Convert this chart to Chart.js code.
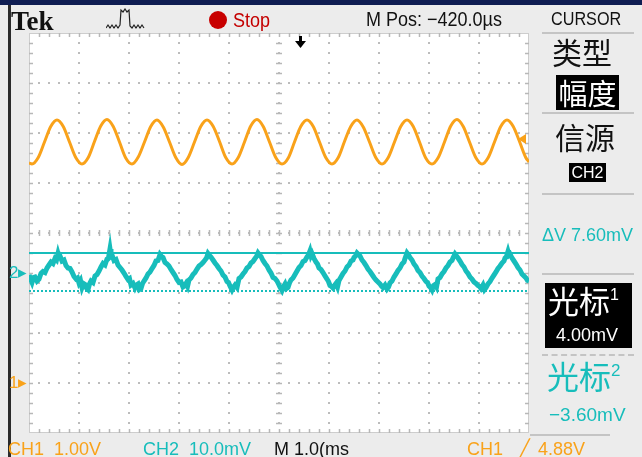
<!DOCTYPE html>
<html>
<head>
<meta charset="utf-8">
<script src="https://cdn.jsdelivr.net/npm/chart.js@4.4.1/dist/chart.umd.min.js"></script>
<style>
  html, body { margin: 0; padding: 0; }
  body { width: 642px; height: 457px; overflow: hidden; background: #ececec; position: relative;
         font-family: "Liberation Sans", Arial, sans-serif; }
  #scope { position: absolute; left: 0; top: 0; }
  .t { position: absolute; white-space: nowrap; line-height: 1; }
  .narrow { transform: scaleX(0.9); transform-origin: left top; }
  .cjk { font-family: "Noto Sans CJK SC", sans-serif; font-weight: 400; }
  .sep { position: absolute; height: 2px; background: #c4c4c4; }
  .box { position: absolute; background: #000; color: #fff; text-align: center; }
  .orange { color: #f9a21a; }
  .teal { color: #17bdbb; }
</style>
</head>
<body>
<canvas id="scope" width="642" height="457"></canvas>

<!-- frame -->
<div style="position:absolute;left:0;top:0;width:642px;height:5px;background:#0f1d52"></div>
<div style="position:absolute;left:8px;top:5px;width:3px;height:452px;background:#2b2b2b"></div>

<!-- header -->
<div class="t" style="left:11px;top:6px;font:bold 27px 'Liberation Serif',serif;color:#111">Tek</div>
<svg style="position:absolute;left:106px;top:8px" width="42" height="22" viewBox="0 0 42 22">
  <polyline fill="none" stroke="#222" stroke-width="1.2"
    points="0,20 2,17 4,20 6,17 8,20 10,17 12,20 14,17 15,2 17,4 19,1 21,4 23,2 24,18 26,20 28,17 30,20 32,17 34,20 36,17 38,20"/>
</svg>
<div style="position:absolute;left:209px;top:11px;width:18px;height:18px;border-radius:50%;background:#c80000"></div>
<div class="t narrow" style="left:233px;top:10px;font-size:20px;color:#c40000">Stop</div>
<div class="t narrow" style="left:366px;top:9px;font-size:20px;color:#111">M Pos: −420.0µs</div>
<div class="t narrow" style="left:551px;top:10px;font-size:18px;color:#111">CURSOR</div>

<!-- right menu -->
<div class="sep" style="left:542px;top:32px;width:92px"></div>
<div class="t cjk" style="left:552px;top:36px;font-size:30px;color:#111">类型</div>
<div class="box cjk" style="left:556px;top:75px;width:63px;height:35px;font-size:29px;line-height:35px">幅度</div>
<div class="sep" style="left:542px;top:112px;width:92px"></div>
<div class="t cjk" style="left:555px;top:121px;font-size:30px;color:#111">信源</div>
<div class="box" style="left:569px;top:163px;width:37px;height:19px;font-size:16px;line-height:19px">CH2</div>
<div class="sep" style="left:542px;top:193px;width:92px"></div>
<div class="t teal" style="left:542px;top:226px;font-size:18px">ΔV 7.60mV</div>
<div class="sep" style="left:542px;top:273px;width:92px"></div>
<div class="box" style="left:545px;top:283px;width:87px;height:65px">
  <div class="t cjk" style="left:3px;top:1px;font-size:31px">光标<span style="font-size:16px;vertical-align:13px;font-family:'Liberation Sans'">1</span></div>
  <div class="t" style="left:11px;top:43px;font-size:18px">4.00mV</div>
</div>
<div style="position:absolute;left:542px;top:354px;width:92px;height:0;border-top:2px dashed #c4c4c4"></div>
<div class="t cjk teal" style="left:547px;top:359px;font-size:32px">光标<span style="font-size:17px;vertical-align:13px;font-family:'Liberation Sans'">2</span></div>
<div class="t teal" style="left:549px;top:405px;font-size:19px">−3.60mV</div>
<div class="sep" style="left:530px;top:434px;width:80px"></div>

<!-- footer -->
<div class="t orange" style="left:8px;top:440px;font-size:18px">CH1&nbsp;&nbsp;1.00V</div>
<div class="t teal" style="left:143px;top:440px;font-size:18px">CH2&nbsp;&nbsp;10.0mV</div>
<div class="t" style="left:274px;top:440px;font-size:18px;color:#111">M 1.0(ms</div>
<div class="t orange" style="left:467px;top:440px;font-size:18px;word-spacing:3px">CH1 &nbsp;╱ 4.88V</div>

<!-- ground markers (placed from the scales) -->
<div id="gnd2" class="t teal" style="left:9px;top:0;font-size:17px">2▸</div>
<div id="gnd1" class="t orange" style="left:9px;top:0;font-size:17px">1▸</div>

<script>
// CH1 time (divisions, 1 ms/div) and volts
const ch1Time = [0, 0.06, 0.185, 0.31, 0.435, 0.56, 0.685, 0.81, 0.935,
  1.06, 1.185, 1.31, 1.435, 1.56, 1.685, 1.81, 1.935,
  2.06, 2.185, 2.31, 2.435, 2.56, 2.685, 2.81, 2.935,
  3.06, 3.185, 3.31, 3.435, 3.56, 3.685, 3.81, 3.935,
  4.06, 4.185, 4.31, 4.435, 4.56, 4.685, 4.81, 4.935,
  5.06, 5.185, 5.31, 5.435, 5.56, 5.685, 5.81, 5.935,
  6.06, 6.185, 6.31, 6.435, 6.56, 6.685, 6.81, 6.935,
  7.06, 7.185, 7.31, 7.435, 7.56, 7.685, 7.81, 7.935,
  8.06, 8.185, 8.31, 8.435, 8.56, 8.685, 8.81, 8.935,
  9.06, 9.185, 9.31, 9.435, 9.56, 9.685, 9.81, 9.935, 10];
const ch1Volts = [4.40, 4.38, 4.51, 4.82, 5.13, 5.26, 5.13, 4.82, 4.51,
  4.38, 4.51, 4.83, 5.14, 5.27, 5.13, 4.82, 4.50,
  4.38, 4.52, 4.82, 5.13, 5.26, 5.12, 4.82, 4.51,
  4.37, 4.51, 4.82, 5.13, 5.26, 5.13, 4.83, 4.51,
  4.38, 4.51, 4.82, 5.14, 5.27, 5.13, 4.82, 4.51,
  4.38, 4.50, 4.82, 5.13, 5.26, 5.13, 4.82, 4.51,
  4.38, 4.51, 4.83, 5.13, 5.26, 5.12, 4.82, 4.51,
  4.38, 4.51, 4.82, 5.13, 5.26, 5.13, 4.82, 4.50,
  4.38, 4.51, 4.82, 5.14, 5.27, 5.13, 4.82, 4.51,
  4.38, 4.51, 4.82, 5.13, 5.26, 5.13, 4.83, 4.51, 4.42];

// CH2 time (divisions) and millivolts, noisy triangle
const ch2Time = [0.00, 0.03, 0.06, 0.09, 0.12, 0.16, 0.20, 0.24, 0.28, 0.32, 0.36, 0.40, 0.44, 0.48, 0.52, 0.55, 0.58, 0.60, 0.62, 0.66, 0.70, 0.74, 0.78, 0.82, 0.86, 0.90, 0.94, 0.97,
  1.00, 1.03, 1.06, 1.09, 1.12, 1.15, 1.18, 1.21, 1.24, 1.28, 1.32, 1.36, 1.40, 1.44, 1.48, 1.52, 1.56, 1.59, 1.62, 1.64, 1.66, 1.70, 1.74, 1.78, 1.82, 1.86, 1.90, 1.94, 1.98,
  2.01, 2.04, 2.08, 2.12, 2.15, 2.18, 2.21, 2.24, 2.27, 2.30, 2.34, 2.38, 2.42, 2.46, 2.50, 2.54, 2.58, 2.62, 2.65, 2.68, 2.72, 2.76, 2.80, 2.84, 2.88, 2.92, 2.96,
  3.00, 3.04, 3.08, 3.11, 3.14, 3.17, 3.20, 3.24, 3.28, 3.32, 3.36, 3.40, 3.44, 3.48, 3.52, 3.55, 3.58, 3.61, 3.64, 3.68, 3.72, 3.76, 3.80, 3.84, 3.88, 3.92, 3.96,
  3.99, 4.02, 4.06, 4.09, 4.12, 4.16, 4.20, 4.24, 4.28, 4.32, 4.36, 4.40, 4.44, 4.48, 4.52, 4.55, 4.58, 4.61, 4.64, 4.68, 4.72, 4.76, 4.80, 4.84, 4.88, 4.92, 4.96,
  4.99, 5.02, 5.06, 5.09, 5.12, 5.15, 5.18, 5.21, 5.24, 5.28, 5.32, 5.36, 5.40, 5.44, 5.48, 5.52, 5.56, 5.59, 5.62, 5.64, 5.66, 5.70, 5.74, 5.77, 5.80, 5.84, 5.88, 5.92, 5.96,
  5.99, 6.02, 6.05, 6.08, 6.11, 6.14, 6.17, 6.20, 6.24, 6.28, 6.32, 6.36, 6.40, 6.44, 6.48, 6.50, 6.53, 6.56, 6.59, 6.62, 6.66, 6.70, 6.74, 6.78, 6.82, 6.86, 6.90, 6.94, 6.98,
  7.02, 7.05, 7.08, 7.12, 7.16, 7.19, 7.22, 7.26, 7.30, 7.34, 7.38, 7.42, 7.46, 7.50, 7.52, 7.56, 7.59, 7.62, 7.66, 7.70, 7.74, 7.78, 7.82, 7.86, 7.90, 7.94, 7.97,
  8.00, 8.03, 8.06, 8.09, 8.12, 8.15, 8.18, 8.22, 8.26, 8.30, 8.34, 8.38, 8.42, 8.46, 8.48, 8.52, 8.55, 8.58, 8.62, 8.66, 8.70, 8.74, 8.78, 8.82, 8.86, 8.90, 8.94, 8.98,
  9.01, 9.04, 9.08, 9.11, 9.14, 9.18, 9.22, 9.26, 9.30, 9.34, 9.38, 9.42, 9.46, 9.50, 9.52, 9.55, 9.58, 9.60, 9.62, 9.66, 9.70, 9.74, 9.78, 9.82, 9.86, 9.90, 9.94, 9.97, 10.00];
const ch2MilliVolts = [-0.4, -1.2, -1.9, -0.9, -0.8, -1.6, -1.2, -0.1, 0.3, 0.1, 1.0, 1.6, 2.2, 1.9, 2.9, 2.6, 3.9, 3.2, 3.4, 2.4, 2.6, 1.5, 1.0, 0.9, 0.2, -0.7, -1.2, -1.0,
  -2.0, -1.5, -2.9, -2.1, -2.3, -3.0, -3.3, -2.2, -1.6, -1.9, -0.6, -0.3, 0.4, 1.2, 1.9, 1.6, 2.8, 3.0, 4.8, 3.4, 3.6, 2.5, 2.7, 1.6, 1.1, 0.6, 0.0, -0.7, -1.3,
  -1.1, -2.4, -2.1, -3.0, -2.4, -2.2, -3.3, -3.1, -2.1, -1.6, -1.0, -0.2, 0.2, 0.9, 1.5, 2.4, 2.5, 3.7, 3.3, 3.1, 2.1, 1.8, 1.4, 0.7, 0.1, -0.5, -1.3,
  -1.9, -1.8, -2.8, -2.6, -2.1, -2.7, -1.4, -1.0, -0.3, 0.1, 0.8, 1.4, 1.7, 2.1, 2.6, 3.0, 3.9, 3.5, 3.2, 2.6, 2.0, 1.5, 0.9, 0.4, -0.4, -0.8, -1.7,
  -1.9, -2.6, -3.4, -2.8, -2.4, -2.9, -1.1, -0.8, -0.2, 0.3, 1.0, 1.3, 2.0, 2.3, 2.9, 3.3, 4.0, 3.6, 3.3, 2.5, 1.9, 1.4, 0.6, 0.0, -0.9, -1.1, -1.6,
  -2.2, -2.8, -3.5, -2.7, -2.2, -3.1, -2.9, -2.0, -1.4, -1.0, -0.3, 0.4, 1.1, 1.5, 2.3, 2.5, 3.2, 3.6, 4.4, 3.5, 3.9, 2.9, 2.2, 1.8, 1.0, 0.7, 0.1, -0.6, -1.2,
  -1.7, -2.5, -2.7, -3.0, -2.5, -2.1, -2.8, -1.5, -0.8, -0.1, 0.4, 1.2, 1.6, 2.4, 2.6, 3.1, 3.4, 4.0, 3.7, 3.4, 2.6, 2.1, 1.5, 0.8, 0.3, -0.3, -0.9, -1.4, -1.8,
  -2.2, -2.6, -2.9, -2.4, -3.2, -2.8, -2.0, -1.6, -0.8, -0.2, 0.5, 1.0, 1.8, 2.2, 2.9, 4.0, 3.6, 3.1, 2.6, 1.8, 1.3, 0.5, 0.1, -0.6, -1.1, -1.7, -1.9,
  -2.6, -2.9, -3.4, -2.5, -2.3, -2.8, -1.2, -0.9, -0.2, 0.3, 1.0, 1.5, 2.2, 2.5, 3.0, 3.8, 3.4, 3.0, 2.4, 1.7, 1.2, 0.4, -0.1, -0.8, -1.2, -1.8, -2.1, -2.5,
  -2.7, -3.1, -2.4, -3.3, -2.9, -2.2, -1.7, -1.0, -0.4, 0.2, 0.9, 1.4, 2.0, 2.4, 3.0, 3.3, 4.3, 3.6, 3.8, 3.0, 2.4, 1.8, 1.1, 0.6, -0.2, -0.6, -1.0, -1.5, -1.6];

// cursor levels (mV), trigger level (V) and trigger position (div)
const cursorLevels = [4.00, -3.60];
const trigLevel = 4.88;
const trigPos = 5.42;

const ORANGE = '#f9a21a';
const TEAL = '#17bdbb';

const pairs = (xs, ys) => xs.map((x, i) => ({ x: x, y: ys[i] }));
const edge = (v, a, b) => v === a || v === b;

const scopePlugin = {
  id: 'scope',
  beforeDraw(chart) {
    const { ctx, chartArea: a } = chart;
    ctx.save();
    ctx.fillStyle = '#ffffff';
    ctx.fillRect(a.left, a.top, a.right - a.left, a.bottom - a.top);
    ctx.restore();
  },
  beforeDatasetsDraw(chart) {
    const { ctx, chartArea: a, scales } = chart;
    const xs = scales.x, ys = scales.y1;
    const cx = xs.getPixelForValue(5), cy = ys.getPixelForValue(3);
    ctx.save();
    ctx.strokeStyle = '#cdcdcd';
    ctx.lineWidth = 1;
    ctx.strokeRect(a.left + 0.5, a.top + 0.5, a.right - a.left - 1, a.bottom - a.top - 1);
    ctx.strokeStyle = '#b8b8b8';
    ctx.lineWidth = 1.5;
    ctx.beginPath();
    for (let i = 1; i < 50; i++) {
      const px = Math.round(xs.getPixelForValue(i / 5)) + 0.5;
      ctx.moveTo(px, a.top); ctx.lineTo(px, a.top + 4);
      ctx.moveTo(px, a.bottom - 4); ctx.lineTo(px, a.bottom);
      ctx.moveTo(px, cy - 3); ctx.lineTo(px, cy + 3);
    }
    for (let i = 1; i < 40; i++) {
      const py = Math.round(ys.getPixelForValue(-1 + i / 5)) + 0.5;
      ctx.moveTo(a.left, py); ctx.lineTo(a.left + 4, py);
      ctx.moveTo(a.right - 4, py); ctx.lineTo(a.right, py);
      ctx.moveTo(cx - 3, py); ctx.lineTo(cx + 3, py);
    }
    ctx.stroke();
    ctx.restore();
  },
  afterDraw(chart) {
    const { ctx, chartArea: a, scales } = chart;
    ctx.save();
    // trigger level marker
    const ty = scales.y1.getPixelForValue(trigLevel);
    ctx.fillStyle = ORANGE;
    ctx.beginPath();
    ctx.moveTo(a.right - 11, ty);
    ctx.lineTo(a.right - 3, ty - 5);
    ctx.lineTo(a.right - 3, ty + 5);
    ctx.closePath();
    ctx.fill();
    // trigger position marker
    const tx = Math.round(scales.x.getPixelForValue(trigPos));
    ctx.fillStyle = '#000';
    ctx.fillRect(tx - 1, a.top + 3, 3, 7);
    ctx.beginPath();
    ctx.moveTo(tx - 5, a.top + 8);
    ctx.lineTo(tx + 6, a.top + 8);
    ctx.lineTo(tx + 0.5, a.top + 15);
    ctx.closePath();
    ctx.fill();
    ctx.restore();
    // ground markers
    const g1 = document.getElementById('gnd1'), g2 = document.getElementById('gnd2');
    g1.style.top = (scales.y1.getPixelForValue(0) - 9) + 'px';
    g2.style.top = (scales.y2.getPixelForValue(0) - 9) + 'px';
  }
};

new Chart(document.getElementById('scope'), {
  type: 'line',
  data: {
    datasets: [
      { label: 'CH1', data: pairs(ch1Time, ch1Volts), yAxisID: 'y1', borderColor: ORANGE,
        borderWidth: 3, pointRadius: 0, cubicInterpolationMode: 'monotone' },
      { label: 'CH2', data: pairs(ch2Time, ch2MilliVolts), yAxisID: 'y2', borderColor: TEAL,
        borderWidth: 5, pointRadius: 0, tension: 0 },
      { label: 'Cursor 1', data: [{ x: 0, y: cursorLevels[0] }, { x: 10, y: cursorLevels[0] }], yAxisID: 'y2',
        borderColor: TEAL, borderWidth: 2, pointRadius: 0 },
      { label: 'Cursor 2', data: [{ x: 0, y: cursorLevels[1] }, { x: 10, y: cursorLevels[1] }], yAxisID: 'y2',
        borderColor: TEAL, borderWidth: 2, borderDash: [2, 2], pointRadius: 0 }
    ]
  },
  options: {
    responsive: false,
    animation: false,
    events: [],
    layout: { padding: { left: 29, top: 33, right: 113, bottom: 24 } },
    plugins: { legend: { display: false }, tooltip: { enabled: false } },
    scales: {
      x: {
        type: 'linear', min: 0, max: 10,
        ticks: { display: false, stepSize: 1 },
        grid: { drawTicks: false, lineWidth: 2, color: c => edge(c.tick.value, 0, 10) ? 'rgba(0,0,0,0)' : '#bcbcbc' },
        border: { display: false, dash: [2, 8], dashOffset: 1 }
      },
      y1: {
        position: 'left', min: -1, max: 7,
        ticks: { display: false, stepSize: 1 },
        grid: { drawTicks: false, lineWidth: 2, color: c => edge(c.tick.value, -1, 7) ? 'rgba(0,0,0,0)' : '#bcbcbc' },
        border: { display: false, dash: [2, 8], dashOffset: 1 }
      },
      y2: { display: false, position: 'right', min: -32, max: 48 }
    }
  },
  plugins: [scopePlugin]
});
</script>
</body>
</html>
